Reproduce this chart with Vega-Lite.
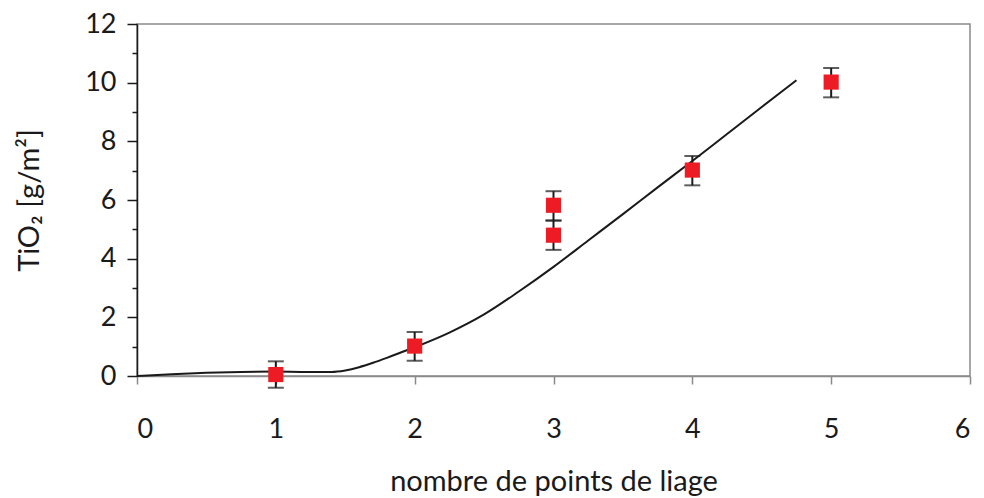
{
  "$schema": "https://vega.github.io/schema/vega-lite/v6.json",
  "width": 833,
  "height": 352,
  "autosize": {"type": "none"},
  "padding": {"left": 137, "top": 24, "right": 14, "bottom": 122},
  "background": "white",
  "config": {
    "view": {"stroke": "#8a8a8a", "strokeWidth": 1.5},
    "font": "Lato",
    "axis": {"grid": false, "labelFont": "Lato", "titleFont": "Lato", "labelFontSize": 27, "titleFontSize": 29, "labelColor": "#1a1a1a", "titleColor": "#1a1a1a", "titleFontWeight": "normal"}
  },
  "datasets": {
    "curve": [
      {"x": 0, "y": 0}, {"x": 0.25, "y": 0.06}, {"x": 0.5, "y": 0.11}, {"x": 0.75, "y": 0.14},
      {"x": 1.0, "y": 0.15}, {"x": 1.2, "y": 0.14}, {"x": 1.4, "y": 0.14}, {"x": 1.5, "y": 0.19},
      {"x": 1.6, "y": 0.3}, {"x": 1.7, "y": 0.45}, {"x": 1.8, "y": 0.62}, {"x": 1.9, "y": 0.8}, {"x": 2.0, "y": 0.98},
      {"x": 2.25, "y": 1.48}, {"x": 2.5, "y": 2.1}, {"x": 2.75, "y": 2.88}, {"x": 3.0, "y": 3.72},
      {"x": 3.25, "y": 4.62}, {"x": 3.5, "y": 5.52}, {"x": 3.75, "y": 6.43}, {"x": 4.0, "y": 7.33},
      {"x": 4.25, "y": 8.25}, {"x": 4.5, "y": 9.17}, {"x": 4.75, "y": 10.08}
    ],
    "points": [
      {"x": 1, "y": 0.05, "lo": -0.4, "hi": 0.5},
      {"x": 2, "y": 1.02, "lo": 0.52, "hi": 1.5},
      {"x": 3, "y": 5.82, "lo": 5.3, "hi": 6.3},
      {"x": 3, "y": 4.8, "lo": 4.3, "hi": 5.3},
      {"x": 4, "y": 7.02, "lo": 6.5, "hi": 7.5},
      {"x": 5, "y": 10.02, "lo": 9.5, "hi": 10.5}
    ]
  },
  "layer": [
    {
      "data": {"name": "curve"},
      "mark": {"type": "line", "color": "#1a1a1a", "strokeWidth": 2, "interpolate": "monotone"},
      "encoding": {
        "x": {"field": "x", "type": "quantitative", "scale": {"domain": [0, 6], "nice": false},
          "axis": {"values": [0, 1, 2, 3, 4, 5, 6], "format": "d", "title": "nombre de points de liage", "labelFontSize": 27, "titleFontSize": 29, "tickSize": 8, "tickColor": "#8a8a8a", "tickWidth": 1.5, "domainColor": "#8a8a8a", "domainWidth": 1.5, "labelPadding": 32, "titlePadding": 25}},
        "y": {"field": "y", "type": "quantitative", "scale": {"domain": [0, 12], "nice": false},
          "axis": {"values": [0, 2, 4, 6, 8, 10, 12], "title": "TiO₂ [g/m²]", "labelFontSize": 27, "titleFontSize": 29, "tickSize": 10, "tickColor": "#1a1a1a", "tickWidth": 1.5, "domainColor": "#1a1a1a", "domainWidth": 1.5, "labelPadding": 11, "titlePadding": 40}}
      }
    },
    {
      "data": {"name": "points"},
      "mark": {"type": "rule", "color": "#1a1a1a", "strokeWidth": 2},
      "encoding": {
        "x": {"field": "x", "type": "quantitative"},
        "y": {"field": "lo", "type": "quantitative",
          "axis": {"values": [1, 3, 5, 7, 9, 11], "labels": false, "domain": false, "title": null, "orient": "left", "tickSize": 5, "tickColor": "#1a1a1a", "tickWidth": 1.5}},
        "y2": {"field": "hi"}
      }
    },
    {
      "data": {"name": "points"},
      "mark": {"type": "tick", "orient": "horizontal", "color": "#1a1a1a", "thickness": 2, "size": 16},
      "encoding": {
        "x": {"field": "x", "type": "quantitative"},
        "y": {"field": "hi", "type": "quantitative", "axis": null}
      }
    },
    {
      "data": {"name": "points"},
      "mark": {"type": "tick", "orient": "horizontal", "color": "#1a1a1a", "thickness": 2, "size": 16},
      "encoding": {
        "x": {"field": "x", "type": "quantitative"},
        "y": {"field": "lo", "type": "quantitative", "axis": null}
      }
    },
    {
      "data": {"name": "points"},
      "mark": {"type": "square", "color": "#ed1c24", "opacity": 1, "filled": true, "size": 230},
      "encoding": {
        "x": {"field": "x", "type": "quantitative"},
        "y": {"field": "y", "type": "quantitative", "axis": null}
      }
    }
  ],
  "resolve": {"axis": {"y": "independent"}}
}
